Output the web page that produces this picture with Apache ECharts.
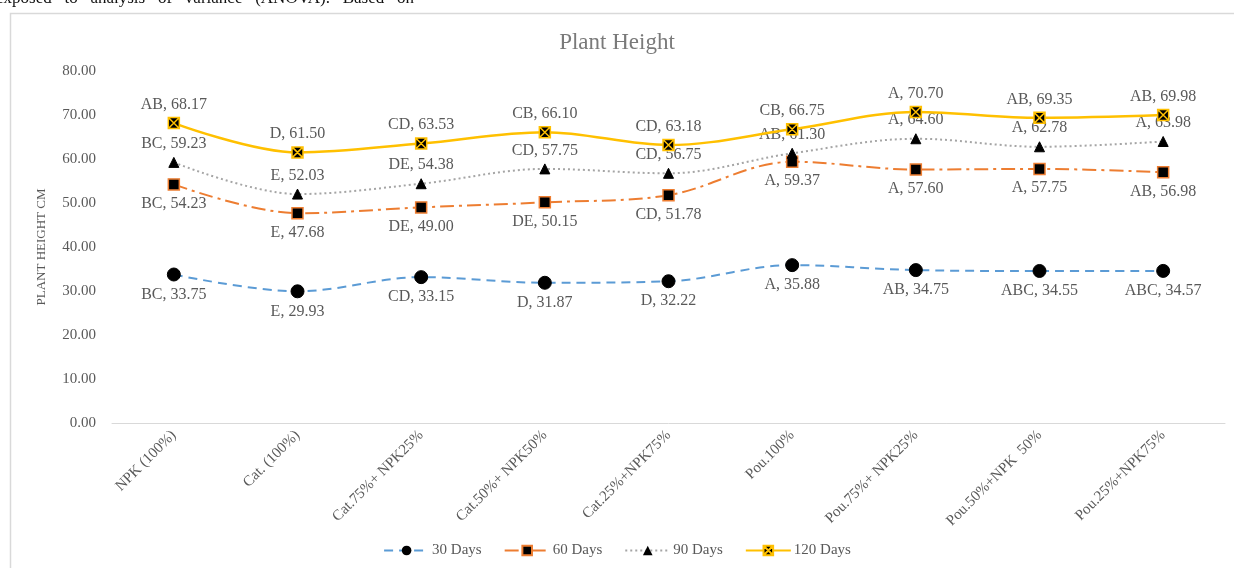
<!DOCTYPE html>
<html>
<head>
<meta charset="utf-8">
<script src="https://cdn.jsdelivr.net/npm/echarts@6/dist/echarts.min.js"></script>
<style>
  html, body { margin: 0; padding: 0; background: #fff; }
  #chart { width: 1234px; height: 568px; }
</style>
</head>
<body>
<div id="chart"></div>
<script>
// Treatments on the x axis
const categories = ['NPK (100%)', 'Cat. (100%)', 'Cat.75%+ NPK25%', 'Cat.50%+ NPK50%', 'Cat.25%+NPK75%',
  'Pou.100%', 'Pou.75%+ NPK25%', 'Pou.50%+NPK  50%', 'Pou.25%+NPK75%'];

// Mean plant height (cm) per sampling date
const days30 = [33.75, 29.93, 33.15, 31.87, 32.22, 35.88, 34.75, 34.55, 34.57];
const days60 = [54.23, 47.68, 49.00, 50.15, 51.78, 59.37, 57.60, 57.75, 56.98];
const days90 = [59.23, 52.03, 54.38, 57.75, 56.75, 61.30, 64.60, 62.78, 63.98];
const days120 = [68.17, 61.50, 63.53, 66.10, 63.18, 66.75, 70.70, 69.35, 69.98];

// Significance groups (mean separation letters)
const letters30 = ['BC', 'E', 'CD', 'D', 'D', 'A', 'AB', 'ABC', 'ABC'];
const letters60 = ['BC', 'E', 'DE', 'DE', 'CD', 'A', 'A', 'A', 'AB'];
const letters90 = ['BC', 'E', 'DE', 'CD', 'CD', 'AB', 'A', 'A', 'A'];
const letters120 = ['AB', 'D', 'CD', 'CB', 'CD', 'CB', 'A', 'AB', 'AB'];

const yTicks = [0, 80, 10];

const FONT = '"Liberation Serif", "DejaVu Serif", serif';
const TEXT = '#595959';

const chart = echarts.init(document.getElementById('chart'), null, { renderer: 'canvas' });

function labelFor(letters, pos, dist) {
  return {
    show: true,
    position: pos,
    distance: dist,
    color: TEXT,
    fontFamily: FONT,
    fontSize: 16,
    formatter: p => letters[p.dataIndex] + ', ' + p.value.toFixed(2)
  };
}

const boxX = 'path://M0,0 L10,0 L10,10 L0,10 Z M0,0 L10,10 M10,0 L0,10';

chart.setOption({
  animation: false,
  backgroundColor: '#fff',
  graphic: [
    {
      type: 'text', left: -4, top: -10, silent: true,
      style: {
        text: 'exposed   to   analysis   of   variance   (ANOVA).   Based   on',
        font: '17px "Liberation Serif", serif', fill: '#111'
      }
    },
    {
      type: 'rect', silent: true,
      shape: { x: 10.5, y: 13.5, width: 1240, height: 600 },
      style: { fill: 'none', stroke: '#d9d9d9', lineWidth: 1.5 }
    }
  ],
  title: {
    text: 'Plant Height',
    left: 'center',
    top: 26,
    textStyle: { fontFamily: FONT, fontSize: 23, fontWeight: 'normal', color: '#7a7a7a' }
  },
  legend: {
    bottom: 5,
    left: 'center',
    itemWidth: 45,
    itemHeight: 12,
    itemGap: 22,
    textStyle: { fontFamily: FONT, fontSize: 15, color: TEXT, padding: [0, 0, 0, -2] },
    data: ['30 Days', '60 Days', '90 Days', '120 Days']
  },
  grid: { left: 112, right: 9, top: 71, bottom: 145, containLabel: false },
  xAxis: {
    type: 'category',
    data: categories,
    boundaryGap: true,
    axisLine: { lineStyle: { color: '#d9d9d9', width: 1 } },
    axisTick: { show: false },
    axisLabel: {
      rotate: 45,
      interval: 0,
      margin: 10,
      color: TEXT,
      fontFamily: FONT,
      fontSize: 15
    }
  },
  yAxis: {
    type: 'value',
    min: yTicks[0],
    max: yTicks[1],
    interval: yTicks[2],
    name: 'PLANT HEIGHT CM',
    nameLocation: 'middle',
    nameGap: 64,
    nameRotate: 90,
    nameTextStyle: { fontFamily: FONT, fontSize: 13, color: TEXT },
    axisLine: { show: false },
    axisTick: { show: false },
    splitLine: { show: false },
    axisLabel: {
      margin: 16,
      color: TEXT,
      fontFamily: FONT,
      fontSize: 15,
      formatter: v => v.toFixed(2)
    }
  },
  series: [
    {
      name: '30 Days',
      type: 'line',
      data: days30,
      smooth: 0.35,
      symbol: 'circle',
      symbolSize: 13,
      itemStyle: { color: '#000', borderColor: '#000' },
      lineStyle: { color: '#5B9BD5', width: 2, type: [9, 6] },
      label: labelFor(letters30, 'bottom', 5),
      z: 2
    },
    {
      name: '60 Days',
      type: 'line',
      data: days60,
      smooth: 0.35,
      symbol: 'rect',
      symbolSize: 11,
      itemStyle: { color: '#000', borderColor: '#ED7D31', borderWidth: 1.5 },
      lineStyle: { color: '#ED7D31', width: 2, type: [14, 5, 3, 5] },
      label: labelFor(letters60, 'bottom', 5),
      z: 3
    },
    {
      name: '90 Days',
      type: 'line',
      data: days90,
      smooth: 0.35,
      symbol: 'triangle',
      symbolSize: 10,
      itemStyle: { color: '#000', borderColor: '#000' },
      lineStyle: { color: '#A5A5A5', width: 2, type: [2, 3] },
      label: labelFor(letters90, 'top', 5),
      z: 4
    },
    {
      name: '120 Days',
      type: 'line',
      data: days120,
      smooth: 0.35,
      symbol: boxX,
      symbolSize: 11,
      itemStyle: { color: '#000', borderColor: '#FFC000', borderWidth: 1.5 },
      lineStyle: { color: '#FFC000', width: 2.5 },
      label: labelFor(letters120, 'top', 4),
      z: 5
    }
  ]
});
</script>
</body>
</html>
